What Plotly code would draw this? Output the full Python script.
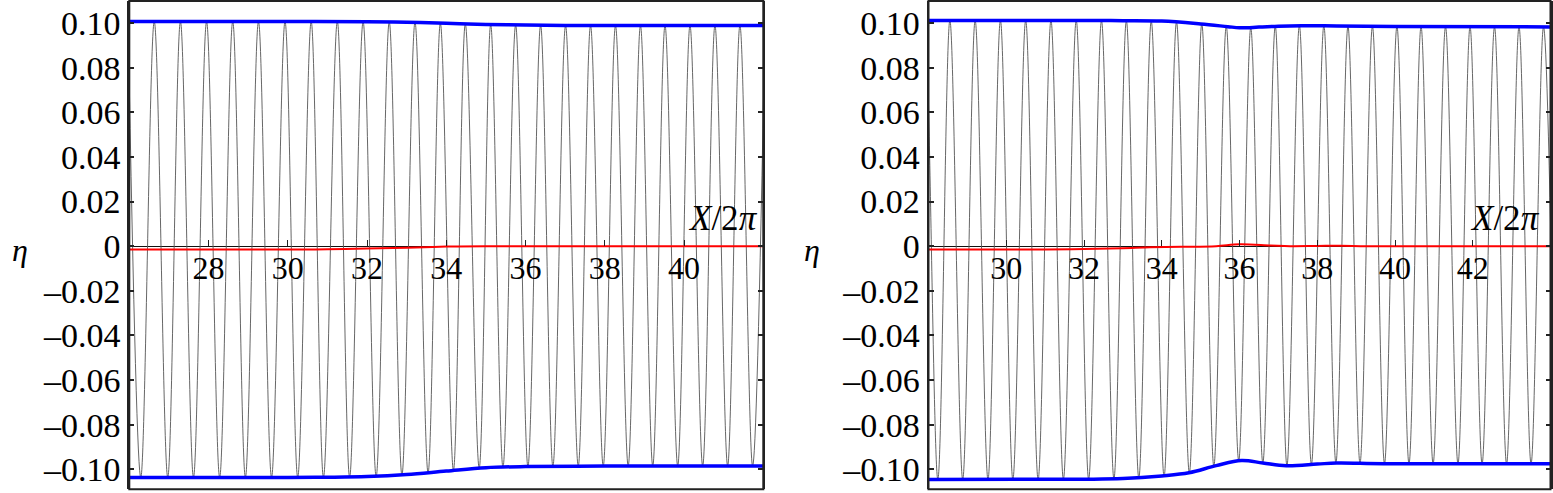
import plotly.graph_objects as go

# ---- left panel data ----
left_crest_x = [25.97, 26.63, 27.29, 27.95, 28.61, 29.26, 29.93, 30.59, 31.25, 31.90,
                32.56, 33.21, 33.85, 34.48, 35.12, 35.75, 36.38, 37.01, 37.64, 38.27,
                38.90, 39.52, 40.15, 40.78, 41.41, 42.04]
left_crest_y = [0.1007, 0.1007, 0.1007, 0.1007, 0.1007, 0.1007, 0.1007, 0.1007, 0.1007, 0.1006,
                0.1005, 0.1003, 0.0999, 0.0996, 0.0993, 0.0991, 0.0990, 0.0989, 0.0989, 0.0989,
                0.0989, 0.0989, 0.0989, 0.0989, 0.0989, 0.0989]
left_trough_x = [26.29, 26.97, 27.62, 28.28, 28.93, 29.59, 30.25, 30.90, 31.56, 32.23,
                 32.88, 33.54, 34.18, 34.83, 35.43, 36.06, 36.69, 37.33, 37.96, 38.59,
                 39.21, 39.84, 40.47, 41.10, 41.73]
left_trough_y = [-0.1037, -0.1037, -0.1037, -0.1037, -0.1037, -0.1037, -0.1037, -0.1037, -0.1036, -0.1033,
                 -0.1026, -0.1016, -0.1005, -0.0995, -0.0991, -0.0988, -0.0987, -0.0986, -0.0986, -0.0985,
                 -0.0985, -0.0985, -0.0985, -0.0985, -0.0985]
left_upper_x = [26, 28, 30, 32, 33, 34, 35, 36, 37, 38, 40, 42]
left_upper_y = [0.1007, 0.1007, 0.1007, 0.1006, 0.1004, 0.0999, 0.0994, 0.0991, 0.0989, 0.0989, 0.0989, 0.0989]
left_lower_x = [26, 30, 31, 32, 33, 34, 35, 36, 38, 40, 42]
left_lower_y = [-0.1037, -0.1037, -0.1036, -0.1033, -0.1024, -0.1008, -0.0993, -0.0988, -0.0986, -0.0985, -0.0985]
left_mean_x = [26, 30, 31, 32, 33, 34, 35, 42]
left_mean_y = [-0.0015, -0.0015, -0.0014, -0.0011, -0.0007, -0.0002, 0.0, 0.0]

# ---- right panel data ----
right_crest_x = [27.91, 28.55, 29.20, 29.85, 30.50, 31.15, 31.80, 32.45, 33.09, 33.73,
                 34.38, 35.03, 35.66, 36.29, 36.92, 37.54, 38.17, 38.79, 39.42, 40.05,
                 40.67, 41.30, 41.93, 42.56, 43.19, 43.82]
right_crest_y = [0.1012, 0.1012, 0.1012, 0.1012, 0.1012, 0.1012, 0.1012, 0.1011, 0.1010, 0.1009,
                 0.1005, 0.0996, 0.0985, 0.0979, 0.0986, 0.0989, 0.0988, 0.0986, 0.0985, 0.0985,
                 0.0984, 0.0984, 0.0983, 0.0983, 0.0983, 0.0983]
right_trough_x = [27.59, 28.24, 28.88, 29.53, 30.17, 30.82, 31.47, 32.12, 32.77, 33.41,
                  34.06, 34.71, 35.34, 35.98, 36.60, 37.22, 37.85, 38.48, 39.10, 39.73,
                  40.36, 40.98, 41.62, 42.24, 42.87, 43.50, 44.12]
right_trough_y = [-0.1046, -0.1046, -0.1046, -0.1046, -0.1046, -0.1046, -0.1045, -0.1045, -0.1043, -0.1040,
                  -0.1032, -0.1016, -0.0987, -0.0962, -0.0972, -0.0984, -0.0979, -0.0972, -0.0973, -0.0975,
                  -0.0976, -0.0976, -0.0976, -0.0976, -0.0976, -0.0976, -0.0976]
right_upper_x = [28, 32, 33, 34, 35, 35.7, 36.0, 36.5, 37.0, 37.6, 38.5, 40, 44]
right_upper_y = [0.1012, 0.1012, 0.1011, 0.1009, 0.0996, 0.0984, 0.0979, 0.0982, 0.0986, 0.0988, 0.0987, 0.0985, 0.0983]
right_lower_x = [28, 32, 33, 34, 34.7, 35.4, 36.05, 36.6, 37.2, 38.0, 38.5, 39.7, 44]
right_lower_y = [-0.1046, -0.1045, -0.1042, -0.1030, -0.1016, -0.0984, -0.0961, -0.0972, -0.0984, -0.0977,
                 -0.0972, -0.0975, -0.0976]
right_mean_x = [28, 31, 32, 33, 33.7, 34.5, 35.4, 36.0, 36.8, 37.3, 38.0, 38.6, 39.3, 44]
right_mean_y = [-0.0015, -0.0015, -0.0013, -0.0009, -0.0005, -0.0003, 0.0, 0.0008, 0.0003, 0.0, 0.0001,
                0.0002, 0.0, 0.0]

y_ticks = [0.10, 0.08, 0.06, 0.04, 0.02, 0.0, -0.02, -0.04, -0.06, -0.08, -0.10]
y_ticktext = ["0.10", "0.08", "0.06", "0.04", "0.02", "0", "\u20130.02", "\u20130.04",
              "\u20130.06", "\u20130.08", "\u20130.10"]
left_xticks = [28, 30, 32, 34, 36, 38, 40]
right_xticks = [30, 32, 34, 36, 38, 40, 42]

W, H = 1553, 493
FONT = "Liberation Serif, Times New Roman, serif"
y_range = [-0.1090, 0.1099]
y_dom = [(H - 489.3) / H, (H - 1) / H]
zero_pos = y_dom[0] + (0 - y_range[0]) / (y_range[1] - y_range[0]) * (y_dom[1] - y_dom[0])


def wave(cx, cy, tx, ty):
    pts = sorted(list(zip(cx, cy)) + list(zip(tx, ty)))
    return [p[0] for p in pts], [p[1] for p in pts]


fig = go.Figure()

panels = [
    ("x", "y", left_crest_x, left_crest_y, left_trough_x, left_trough_y,
     left_upper_x, left_upper_y, left_lower_x, left_lower_y, left_mean_x, left_mean_y),
    ("x2", "y2", right_crest_x, right_crest_y, right_trough_x, right_trough_y,
     right_upper_x, right_upper_y, right_lower_x, right_lower_y, right_mean_x, right_mean_y),
]

for xa, ya, cx, cy, tx, ty, ux, uy, lx, ly, mx, my in panels:
    wx, wy = wave(cx, cy, tx, ty)
    fig.add_trace(go.Scatter(x=wx, y=wy, mode="lines", xaxis=xa, yaxis=ya,
                             line=dict(color="#555555", width=0.9, shape="spline"),
                             showlegend=False, hoverinfo="skip"))
    fig.add_trace(go.Scatter(x=mx, y=my, mode="lines", xaxis=xa, yaxis=ya,
                             line=dict(color="#ff0000", width=2, shape="spline"),
                             showlegend=False))
    fig.add_trace(go.Scatter(x=ux, y=uy, mode="lines", xaxis=xa, yaxis=ya,
                             line=dict(color="#0000ff", width=3.5, shape="spline"),
                             showlegend=False))
    fig.add_trace(go.Scatter(x=lx, y=ly, mode="lines", xaxis=xa, yaxis=ya,
                             line=dict(color="#0000ff", width=3.5, shape="spline"),
                             showlegend=False))

xaxis_common = dict(
    anchor="free", position=zero_pos, showline=False, showgrid=False, zeroline=False,
    automargin=False,
    ticks="inside", ticklen=6, tickwidth=1.3, tickcolor="#222",
    tickfont=dict(family=FONT, size=32, color="black"),
)
yaxis_common = dict(
    range=y_range, domain=y_dom, showgrid=False, automargin=False,
    zeroline=True, zerolinecolor="#111", zerolinewidth=1.3,
    showline=True, linecolor="#222", linewidth=2, mirror="ticks",
    ticks="inside", ticklen=5, tickwidth=1.5, tickcolor="#222",
    tickvals=y_ticks, ticktext=y_ticktext,
    tickfont=dict(family=FONT, size=34, color="black"),
)

fig.update_layout(
    width=W, height=H,
    margin=dict(l=0, r=0, t=0, b=0, autoexpand=False),
    paper_bgcolor="white", plot_bgcolor="white",
    font=dict(family=FONT),
    xaxis=dict(domain=[129.3 / W, 763.3 / W], range=[26, 42], tickvals=left_xticks, **xaxis_common),
    yaxis=dict(anchor="x", **yaxis_common),
    xaxis2=dict(domain=[928.5 / W, 1550.5 / W], range=[28, 44], tickvals=right_xticks, **xaxis_common),
    yaxis2=dict(anchor="x2", **yaxis_common),
)

for xr, yr, shift in [("x domain", "y domain", -3), ("x2 domain", "y2 domain", -9)]:
    fig.add_shape(type="rect", xref=xr, yref=yr, x0=0, x1=1, y0=0, y1=1,
                  line=dict(color="#222", width=2), layer="above")
    fig.add_annotation(text="<i>X</i>/2<i>\u03c0</i>", xref=xr, yref=yr.replace(" domain", ""),
                       x=1, y=0.0125, xanchor="right", yanchor="middle", xshift=shift,
                       showarrow=False, font=dict(family=FONT, size=35, color="black"))

for px in [20, 812]:
    fig.add_annotation(text="<i>\u03b7</i>", xref="paper", yref="paper",
                       x=px / W, y=1 - 250 / H, xanchor="center", yanchor="middle",
                       showarrow=False, font=dict(family=FONT, size=32, color="black"))

# page body margin off so the figure sits at the window's corner
fig.write_html("out.html", config={"displayModeBar": False},
               post_script="document.body.style.margin='0px';")
